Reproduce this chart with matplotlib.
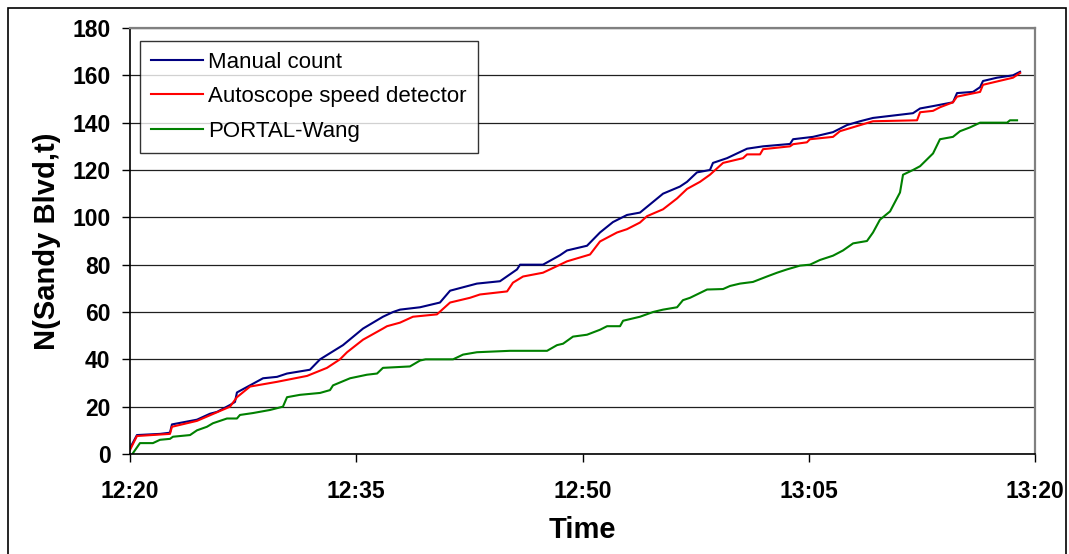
import matplotlib
matplotlib.use("Agg")
import matplotlib.pyplot as plt
from matplotlib.patches import Rectangle

plt.rcParams["font.family"] = ["Liberation Sans", "DejaVu Sans"]

# minutes after 12:20 and cumulative vehicle counts
manual_t = [0, 0.46, 2.0, 2.65, 2.78, 4.44, 5.3, 5.77, 6.63, 6.96, 7.09, 8.82, 9.75,
            10.41, 11.93, 12.6, 14.12, 15.45, 16.77, 17.44, 17.9, 19.23, 20.55, 21.22,
            23.0, 24.53, 25.66, 25.86, 27.38, 28.51, 28.97, 30.3, 31.16, 32.02, 32.95,
            33.81, 34.48, 35.34, 36.46, 36.93, 37.59, 38.45, 38.65, 39.58, 40.91, 41.97,
            43.76, 43.96, 45.28, 46.61, 47.54, 48.4, 49.26, 51.91, 52.38, 53.24, 54.56,
            54.83, 55.89, 56.36, 56.55, 57.48, 58.54, 59.01]
manual_n = [2.5, 8, 8.5, 9, 12.5, 14.5, 17, 17.8, 20.7, 22, 26, 32, 32.6,
            34, 35.6, 40, 46, 53, 58, 60, 61, 62, 64, 69,
            72, 73, 78, 80, 80, 84, 86, 88, 93.6, 98, 101,
            102, 105.5, 110, 113, 115, 119, 120, 123, 125, 129, 130,
            131, 133, 134, 136, 139, 140.6, 142, 144, 146, 147, 148.6,
            152.5, 153, 155, 157.6, 159, 160, 161.5]

auto_t = [0, 0.46, 2.65, 2.78, 4.44, 6.63, 7.09, 7.96, 9.75, 11.74, 13.06, 13.92, 14.39,
          15.45, 16.77, 17.04, 17.9, 18.76, 20.35, 21.22, 22.54, 23.2, 25.0, 25.39,
          26.06, 27.38, 28.51, 28.97, 30.5, 31.16, 32.29, 32.95, 33.81, 34.28, 35.34,
          36.27, 36.93, 37.79, 38.45, 39.32, 40.64, 40.91, 41.77, 41.97, 43.76, 43.96,
          44.88, 45.08, 46.61, 47.07, 49.26, 52.18, 52.38, 53.24, 53.7, 54.56, 54.83,
          56.36, 56.55, 58.54, 59.01]
auto_n = [1.7, 7.6, 8.5, 11.5, 14, 20, 24, 28.5, 30.5, 33, 36.4, 40, 43,
          48.3, 53, 54, 55.5, 58, 59, 64, 66, 67.4, 68.7, 72.4,
          75, 76.6, 80, 81.4, 84.3, 89.8, 93.6, 95, 97.8, 100.5, 103.4,
          108, 112, 115, 118, 123, 125, 126.6, 126.6, 128.8, 130, 130.9,
          131.7, 133, 134, 136.4, 140.6, 141, 144.4, 145, 146.5, 148.6, 151,
          153, 156, 159, 161]

portal_t = [0.2, 0.66, 1.52, 1.99, 2.65, 2.85, 3.98, 4.44, 5.1, 5.5, 6.43, 7.09, 7.29,
            8.15, 9.28, 10.14, 10.41, 11.27, 12.6, 13.26, 13.46, 14.59, 15.71, 16.38,
            16.77, 18.56, 19.23, 19.6, 21.42, 22.08, 23.0, 25.19, 27.65, 28.31, 28.71,
            29.37, 30.3, 31.16, 31.63, 32.49, 32.69, 33.15, 33.81, 34.68, 35.34, 36.27,
            36.66, 37.13, 38.26, 39.32, 39.78, 40.44, 41.3, 42.23, 42.9, 43.56, 44.42,
            45.08, 45.75, 46.61, 47.27, 47.94, 48.86, 49.26, 49.72, 50.39, 51.05, 51.25,
            51.91, 52.38, 53.24, 53.7, 54.56, 55.03, 55.69, 56.36, 58.15, 58.34, 58.81]
portal_n = [0.4, 4.6, 4.6, 6, 6.4, 7.3, 8, 10, 11.5, 13, 15, 15, 16.5,
            17.3, 18.6, 20, 24, 25, 25.8, 27, 29, 32, 33.5, 34,
            36.4, 37, 39.5, 40, 40, 42, 43, 43.6, 43.6, 46, 46.6,
            49.6, 50.4, 52.5, 54, 54, 56.3, 57, 58, 60, 61, 62,
            65, 66, 69.5, 69.7, 71, 72, 72.7, 75, 76.6, 78, 79.6,
            80, 82, 83.8, 86, 89, 90, 93.6, 99, 102.5, 110.5, 118,
            120, 121.6, 127, 133, 134, 136.4, 138, 140, 140, 141, 141]

tick_pos = [0, 15, 30, 45, 60]
tick_labels = ["12:20", "12:35", "12:50", "13:05", "13:20"]

fig = plt.figure(figsize=(10.69, 5.54), dpi=100)
ax = fig.add_axes([130 / 1069, 100 / 554, 905 / 1069, 426 / 554])

ax.plot(manual_t, manual_n, color="#000080", lw=1.5, label="Manual count")
ax.plot(auto_t, auto_n, color="#ff0000", lw=1.5, label="Autoscope speed detector")
ax.plot(portal_t, portal_n, color="#008000", lw=1.5, label="PORTAL-Wang")

ax.set_xlim(0, 60)
ax.set_ylim(0, 180)
ax.set_yticks(range(0, 181, 20))
ax.set_xticks(tick_pos)
ax.set_xticklabels(tick_labels)
ax.yaxis.grid(True, color="#202020", lw=0.9)
ax.set_axisbelow(True)

for side in ["top", "right"]:
    ax.spines[side].set_color("#808080")
    ax.spines[side].set_linewidth(1.6)
for side in ["left", "bottom"]:
    ax.spines[side].set_color("black")
    ax.spines[side].set_linewidth(1.2)

ax.tick_params(axis="x", length=6, width=1, pad=13, labelsize=16.5)
ax.tick_params(axis="y", length=6, width=1, pad=8, labelsize=16.5)
for lab in ax.get_xticklabels() + ax.get_yticklabels():
    lab.set_fontweight("bold")

ax.set_xlabel("Time", fontsize=21, fontweight="bold", labelpad=9)
ax.set_ylabel("N(Sandy Blvd,t)", fontsize=21, fontweight="bold", labelpad=8)

leg = ax.legend(loc="upper left", bbox_to_anchor=(0.011, 0.97), fontsize=16,
                frameon=True, fancybox=False, edgecolor="black",
                handlelength=2.35, handletextpad=0.22, labelspacing=0.6,
                borderpad=0.5, borderaxespad=0)
leg.get_frame().set_linewidth(1.0)

# outer chart border
fig.patches.append(Rectangle((8 / 1069, -0.02), 1058 / 1069, 1.02 - 8 / 554,
                             transform=fig.transFigure, fill=False,
                             edgecolor="black", lw=1.2))

fig.savefig("out.png", dpi=100)
